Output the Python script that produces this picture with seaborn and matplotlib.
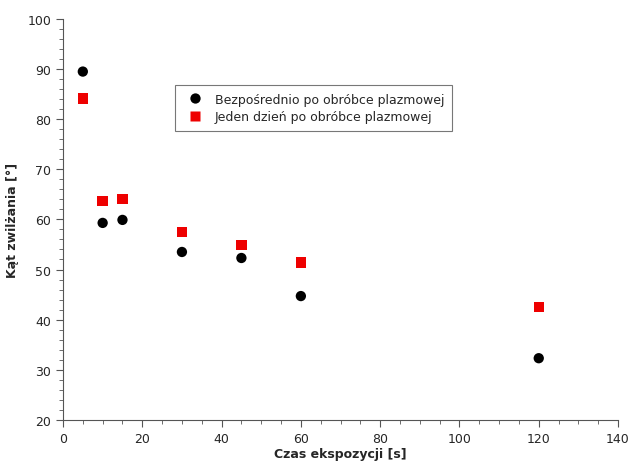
import pandas as pd
import seaborn as sns
import matplotlib.pyplot as plt
from matplotlib.ticker import MultipleLocator

# data
czas = [5, 10, 15, 30, 45, 60, 120]
kat_bezposrednio = [89.5, 59.3, 59.9, 53.5, 52.3, 44.7, 32.3]
kat_jeden_dzien = [84.1, 63.7, 64.1, 57.5, 54.9, 51.4, 42.5]
serie = ["Bezpośrednio po obróbce plazmowej", "Jeden dzień po obróbce plazmowej"]

df = pd.DataFrame({
    "czas": czas * 2,
    "kat": kat_bezposrednio + kat_jeden_dzien,
    "seria": [serie[0]] * len(czas) + [serie[1]] * len(czas),
})

sns.set_style("white")
plt.rcParams['font.family'] = ['DejaVu Sans']

fig = plt.figure(figsize=(6.3, 4.64), dpi=100)
ax = fig.add_axes([0.1, 0.093, 0.881, 0.864])

sns.scatterplot(data=df, x="czas", y="kat", hue="seria", style="seria",
                palette={serie[0]: "black", serie[1]: "#ee0000"},
                markers={serie[0]: "o", serie[1]: "s"},
                s=55, edgecolor="none", ax=ax)

ax.set_xlim(0, 140)
ax.set_ylim(20, 100)
ax.xaxis.set_major_locator(MultipleLocator(20))
ax.xaxis.set_minor_locator(MultipleLocator(5))
ax.yaxis.set_major_locator(MultipleLocator(10))
ax.yaxis.set_minor_locator(MultipleLocator(2))
ax.tick_params(which="both", direction="out", color="#555555", left=True, bottom=True, labelsize=9)
ax.tick_params(which="major", length=5)
ax.tick_params(which="minor", length=3)
for side in ["top", "right"]:
    ax.spines[side].set_visible(False)
for side in ["left", "bottom"]:
    ax.spines[side].set_color("#555555")
    ax.spines[side].set_linewidth(0.8)

ax.set_xlabel("Czas ekspozycji [s]", fontsize=9, fontweight="bold", labelpad=2)
ax.set_ylabel("Kąt zwilżania [°]", fontsize=9, fontweight="bold", labelpad=6)

leg = ax.legend(loc="upper left", bbox_to_anchor=(0.19, 0.85), fontsize=9,
                frameon=True, fancybox=False, edgecolor="#555555",
                handletextpad=0.6, borderpad=0.6, labelspacing=0.35)
leg.get_frame().set_linewidth(0.8)

fig.savefig("out.png", dpi=100)
